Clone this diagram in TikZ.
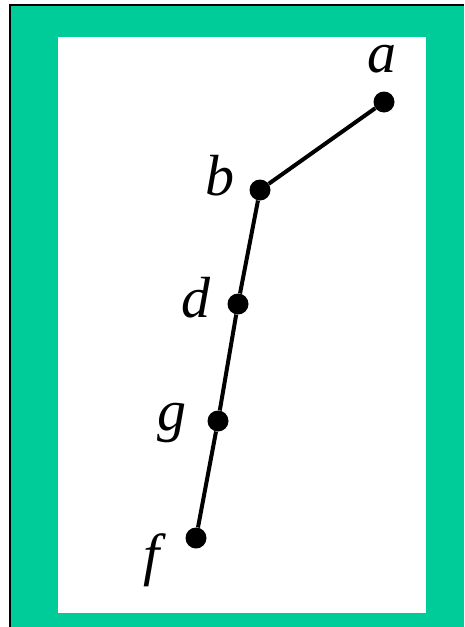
\documentclass[tikz,border=0pt]{standalone}
\usepackage{fontspec}
\setmainfont{Liberation Serif}
\usepackage{tikz}
\definecolor{framegreen}{RGB}{0,204,153}

\tikzset{
  pt/.style={circle, fill=black, inner sep=0pt, minimum size=21pt},
  lbl/.style={anchor=base, inner sep=0pt, font=\fontsize{58}{60}\selectfont\itshape},
  seg/.style={line width=4pt}
}

\begin{document}
\begin{tikzpicture}[x=1pt, y=-1pt]
  \useasboundingbox (0,0) rectangle (464,627);
  \fill[framegreen] (10,5) rectangle (464,627);
  \fill[white] (58,37) rectangle (426,613);
  \draw[line width=2pt] (10,627) -- (10,5) -- (464,5);

  \node[pt] (a) at (384,102) {};
  \node[pt] (b) at (260,190) {};
  \node[pt] (d) at (238,304) {};
  \node[pt] (g) at (218,421) {};
  \node[pt] (f) at (196,538) {};

  \draw[seg] (a) -- (b) -- (d) -- (g) -- (f);

  \node[lbl] (la) at (382,72) {a};
  \node[lbl] (lb) at (220,195) {b};
  \node[lbl] (ld) at (196,317) {d};
  \node[lbl] (lg) at (172,430) {g};
  \node[lbl] (lf) at (152,574) {f};
\end{tikzpicture}
\end{document}
